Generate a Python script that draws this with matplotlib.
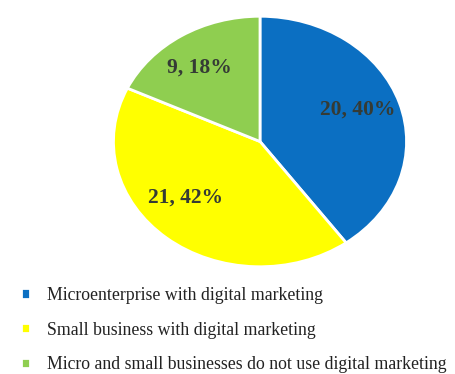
import matplotlib.pyplot as plt

plt.rcParams['font.family'] = ['Liberation Serif', 'DejaVu Serif']

categories = ['Microenterprise with digital marketing',
              'Small business with digital marketing',
              'Micro and small businesses do not use digital marketing']
counts = [20, 21, 9]
percents = [40, 42, 18]
colors = ['#0B6FC2', '#FFFF00', '#8FCE50']

# small nudges (dx, dy in radius units) for the slice labels
label_nudge = [(0.0, 0.04), (-0.06, 0.09), (-0.04, 0.0)]

fig = plt.figure(figsize=(4.56, 3.74), dpi=100)
ax = fig.add_axes([112 / 456, 1 - 268 / 374, 296 / 456, 253 / 374])

wedges, texts = ax.pie(counts, colors=colors, startangle=90, counterclock=False,
                       labels=['%d, %d%%' % (c, p) for c, p in zip(counts, percents)],
                       labeldistance=0.7,
                       wedgeprops=dict(edgecolor='white', linewidth=2))
ax.set_aspect('auto')
ax.set_xlim(-1.01, 1.01)
ax.set_ylim(-1.01, 1.01)

for t, (dx, dy) in zip(texts, label_nudge):
    x, y = t.get_position()
    t.set_position((x + dx, y + dy))
    t.set_ha('center')
    t.set_va('center')
    t.set_fontsize(15.5)
    t.set_fontweight('bold')
    t.set_color('#353b35')

leg = fig.legend(wedges, categories, loc='upper left', bbox_to_anchor=(0.03, 0.252),
                 frameon=False, fontsize=12.8, handlelength=0.5, handleheight=0.5,
                 handletextpad=0.95, labelspacing=1.0, borderaxespad=0)
for t in leg.get_texts():
    t.set_color('#222222')

fig.savefig('out.png', dpi=100)
